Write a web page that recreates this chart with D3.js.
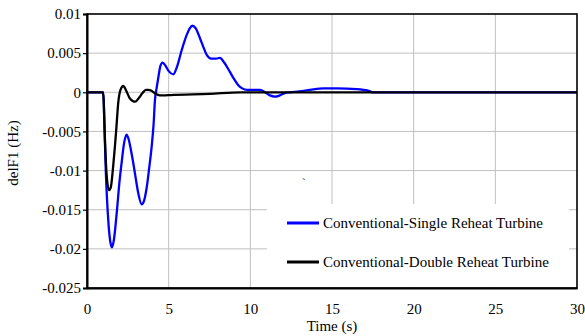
<!DOCTYPE html>
<html>
<head>
<meta charset="utf-8">
<title>delF1</title>
<script src="https://d3js.org/d3.v7.min.js"></script>
<style>
    body { margin: 0; background: #fff; }
</style>
</head>
<body>
<svg id="chart"></svg>
<script>
// chart data
var xTicks = [0, 5, 10, 15, 20, 25, 30];
var yTicks = [0.01, 0.005, 0, -0.005, -0.01, -0.015, -0.02, -0.025];
var yTickLabels = ["0.01", "0.005", "0", "-0.005", "-0.01", "-0.015", "-0.02", "-0.025"];
var seriesNames = ["Conventional-Single Reheat Turbine", "Conventional-Double Reheat Turbine"];
var seriesColors = ["#0000ff", "#000000"];

// time (s), delF1 (Hz)
var singleReheat = [
    [0, 0], [1.0, 0], [1.05, -0.003], [1.15, -0.010], [1.3, -0.0163], [1.42, -0.019], [1.53, -0.0198],
    [1.65, -0.0188], [1.82, -0.0154], [2.0, -0.0112], [2.12, -0.009], [2.27, -0.0065], [2.42, -0.0054],
    [2.55, -0.006], [2.7, -0.0075], [2.83, -0.009], [3.0, -0.0112], [3.14, -0.0129], [3.35, -0.0143],
    [3.5, -0.0138], [3.66, -0.0121], [3.8, -0.0098], [3.96, -0.0069], [4.08, -0.004], [4.16, -0.001],
    [4.26, 0.0005], [4.36, 0.0018], [4.5, 0.0034], [4.63, 0.0038], [4.8, 0.0034], [5.0, 0.0027],
    [5.28, 0.0023], [5.5, 0.0032], [5.8, 0.0054], [6.1, 0.0073], [6.3, 0.0082], [6.45, 0.0085],
    [6.65, 0.0082], [6.9, 0.007], [7.12, 0.0058], [7.35, 0.0047], [7.6, 0.0043], [7.9, 0.0043],
    [8.14, 0.0044], [8.4, 0.0038], [8.75, 0.0026], [9.0, 0.0017], [9.26, 0.0009], [9.5, 0.0005],
    [9.8, 0.0003], [10.6, 0.0003], [10.9, 0], [11.2, -0.0004], [11.5, -0.00056], [11.8, -0.0004],
    [12.1, -0.0001], [12.4, 0], [13.0, 0.0001], [13.65, 0.0003], [14.5, 0.0005], [15.3, 0.0005],
    [16.5, 0.0004], [17.2, 0.0002], [17.5, 0], [30, 0]
];
var doubleReheat = [
    [0, 0], [0.98, 0], [1.02, -0.001], [1.1, -0.0061], [1.2, -0.0105], [1.35, -0.0125], [1.45, -0.0122],
    [1.6, -0.0095], [1.71, -0.0069], [1.8, -0.0045], [1.91, -0.0014], [2.05, 0.0003], [2.22, 0.0008],
    [2.4, 0.0002], [2.6, -0.0007], [2.8, -0.0011], [2.95, -0.0012], [3.15, -0.0008], [3.4, -0.0001],
    [3.6, 0.0003], [3.75, 0.0003], [3.95, 0.0002], [4.2, -0.0002], [4.45, -0.0004], [4.7, -0.0004],
    [5.1, -0.00035], [7.5, -0.0002], [9.4, 0], [30, 0]
];

var FONT = "'Liberation Serif', 'Times New Roman', serif";

//setup canvas
var width = 585, height = 336;
var margin = {top: 14, right: 8, bottom: 48, left: 87};
var svg = d3.select("#chart").attr("width", width).attr("height", height)
    .style("font-family", FONT).style("font-size", "15px");

var x = d3.scaleLinear().domain([0, 30]).range([margin.left, width - margin.right]);
var y = d3.scaleLinear().domain([-0.025, 0.01]).range([height - margin.bottom, margin.top]);

//grid
var grid = svg.append("g").attr("stroke", "#c0c0c0").attr("stroke-width", 1);
grid.selectAll(".vg").data(xTicks.slice(1, -1)).enter().append("line")
    .attr("x1", function(d){ return x(d); }).attr("x2", function(d){ return x(d); })
    .attr("y1", y(0.01)).attr("y2", y(-0.025));
grid.selectAll(".hg").data(yTicks.slice(1, -1)).enter().append("line")
    .attr("x1", x(0)).attr("x2", x(30))
    .attr("y1", function(d){ return y(d); }).attr("y2", function(d){ return y(d); });

//series
var line = d3.line()
    .x(function(d){ return x(d[0]); })
    .y(function(d){ return y(d[1]); })
    .curve(d3.curveMonotoneX);

[singleReheat, doubleReheat].forEach(function(s, i){
    svg.append("path").datum(s)
        .attr("d", line)
        .attr("fill", "none")
        .attr("stroke", seriesColors[i])
        .attr("stroke-width", 2.3)
        .attr("stroke-linejoin", "round");
});

//frame
svg.append("rect")
    .attr("x", x(0)).attr("y", y(0.01))
    .attr("width", x(30) - x(0)).attr("height", y(-0.025) - y(0.01))
    .attr("fill", "none").attr("stroke", "#000").attr("stroke-width", 1.6);

//axes
var yAxis = d3.axisLeft(y).tickValues(yTicks)
    .tickFormat(function(d, i){ return yTickLabels[i]; })
    .tickSize(4).tickPadding(2);
var gy = svg.append("g").attr("transform", "translate(" + x(0) + ",0)").call(yAxis);
gy.attr("font-family", FONT).attr("font-size", 15);
gy.select(".domain").attr("stroke-width", 2);
gy.selectAll(".tick line").attr("stroke-width", 1.2);
gy.selectAll("text").style("font-family", FONT).style("font-size", "15px").attr("fill", "#000");

var xAxis = d3.axisBottom(x).tickValues(xTicks).tickSize(0).tickPadding(15);
var gx = svg.append("g").attr("transform", "translate(0," + y(-0.025) + ")").call(xAxis);
gx.attr("font-family", FONT).attr("font-size", 15);
gx.select(".domain").attr("stroke-width", 2);
gx.selectAll("text").style("font-family", FONT).style("font-size", "15px").attr("fill", "#000");

//axis titles
svg.append("text").attr("x", (x(0) + x(30)) / 2).attr("y", 331)
    .attr("text-anchor", "middle").style("font-family", FONT).text("Time (s)");
svg.append("text").attr("transform", "translate(18," + 153 + ") rotate(-90)")
    .attr("text-anchor", "middle").style("font-family", FONT).text("delF1 (Hz)");

//stray mark
svg.append("text").attr("x", 302).attr("y", 186).style("font-size", "11px").text("`");

//legend
var legend = svg.append("g");
legend.append("rect").attr("x", 267).attr("y", 204).attr("width", 302).attr("height", 83).attr("fill", "#fff");
seriesNames.forEach(function(name, i){
    var ly = 223 + i * 39;
    legend.append("line").attr("x1", 287).attr("x2", 319).attr("y1", ly).attr("y2", ly)
        .attr("stroke", seriesColors[i]).attr("stroke-width", 3);
    legend.append("text").attr("x", 323).attr("y", ly).attr("dy", "0.33em")
        .style("font-family", FONT).text(name);
});
</script>
</body>
</html>
